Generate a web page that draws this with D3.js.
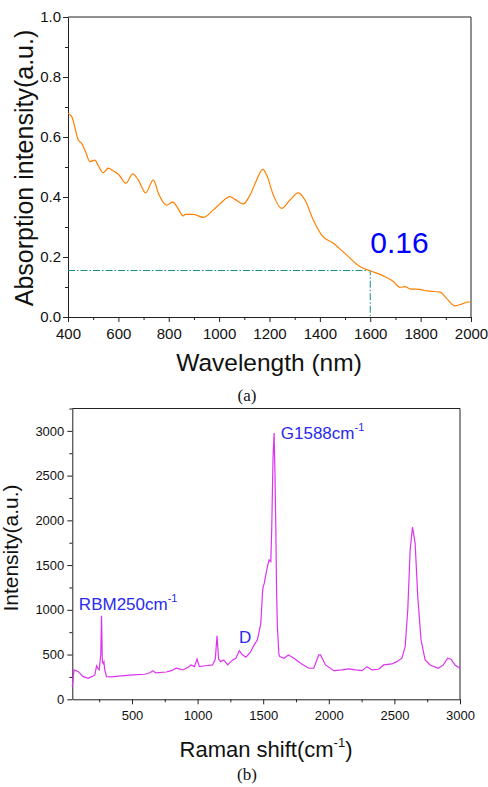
<!DOCTYPE html>
<html>
<head>
<meta charset="utf-8">
<script src="https://cdn.jsdelivr.net/npm/d3@7"></script>
<style>
  body { margin: 0; background: #fff; }
  svg text { font-family: "Liberation Sans", Arial, sans-serif; }
  svg text.serif { font-family: "Liberation Serif", "Times New Roman", serif; }
  .domain { stroke: #222; }
  .tick line { stroke: #222; }
</style>
</head>
<body>
<div id="chart"></div>
<script>
// (a) absorption spectrum
const wavelength = [400, 415, 441, 454, 470, 487, 507, 520, 540, 560, 580, 600, 630, 657, 679, 708, 739, 759, 792, 816, 832, 858, 865, 898, 937, 977, 1003, 1043, 1063, 1096, 1123, 1149, 1173, 1189, 1215, 1248, 1281, 1314, 1341, 1374, 1407, 1453, 1506, 1559, 1599, 1652, 1692, 1718, 1738, 1758, 1798, 1824, 1877, 1903, 1937, 1963, 1990, 2000];
const absorbance = [0.679, 0.668, 0.59, 0.579, 0.55, 0.518, 0.523, 0.505, 0.481, 0.496, 0.487, 0.476, 0.446, 0.477, 0.457, 0.414, 0.457, 0.412, 0.373, 0.384, 0.368, 0.337, 0.342, 0.342, 0.332, 0.357, 0.377, 0.401, 0.392, 0.377, 0.407, 0.457, 0.492, 0.473, 0.407, 0.362, 0.39, 0.414, 0.39, 0.323, 0.273, 0.246, 0.207, 0.168, 0.154, 0.137, 0.118, 0.099, 0.101, 0.094, 0.092, 0.087, 0.083, 0.062, 0.037, 0.043, 0.05, 0.05];
const markWavelength = 1600;
const markAbsorbance = 0.155;
const markLabel = "0.16";

// (b) Raman spectrum
const ramanShift = [45, 58, 91, 128, 166, 192, 217, 230, 242, 250, 262, 268, 274, 280, 286, 292, 306, 344, 420, 508, 600, 640, 660, 680, 761, 800, 837, 860, 888, 930, 950, 976, 996, 1013, 1060, 1114, 1135, 1148, 1160, 1175, 1200, 1229, 1267, 1292, 1318, 1340, 1368, 1400, 1431, 1456, 1482, 1495, 1500, 1507, 1532, 1545, 1558, 1565, 1575, 1583, 1590, 1596, 1602, 1608, 1620, 1626, 1659, 1692, 1735, 1785, 1848, 1885, 1924, 1937, 1975, 2038, 2101, 2152, 2203, 2253, 2291, 2329, 2380, 2418, 2481, 2519, 2557, 2582, 2602, 2620, 2638, 2658, 2678, 2703, 2734, 2772, 2835, 2873, 2906, 2931, 2962, 3000];
const ramanIntensity = [141, 328, 309, 253, 235, 253, 272, 375, 340, 330, 500, 935, 420, 400, 420, 330, 253, 250, 262, 272, 280, 300, 320, 295, 305, 320, 347, 340, 328, 360, 384, 365, 450, 365, 375, 384, 450, 710, 450, 421, 440, 384, 440, 459, 544, 500, 470, 520, 608, 664, 850, 1200, 1260, 1290, 1484, 1559, 1540, 1900, 2700, 2975, 2500, 1931, 1200, 812, 500, 477, 459, 496, 459, 403, 347, 347, 496, 496, 384, 320, 328, 339, 328, 320, 365, 328, 336, 384, 395, 421, 459, 589, 1000, 1671, 1924, 1745, 1148, 664, 440, 384, 347, 384, 459, 448, 384, 347];
const peakLabels = [
  { x: 95, y: 1000, text: "RBM250cm", sup: "-1" },
  { x: 1315, y: 630, text: "D", sup: "" },
  { x: 1634, y: 2910, text: "G1588cm", sup: "-1" }
];

const svg = d3.select("#chart").append("svg")
  .attr("width", 488)
  .attr("height", 787);

function minorAxis(axisFn, scale, values, size) {
  return axisFn(scale).tickValues(values).tickFormat("").tickSize(size).tickSizeOuter(0);
}

// ---------- chart (a) ----------
const xa = d3.scaleLinear().domain([400, 2000]).range([68, 471]);
const ya = d3.scaleLinear().domain([0, 1]).range([317, 17]);

// frame (top and right)
svg.append("path")
  .attr("d", `M${xa(400)},${ya(1)}H${xa(2000)}V${ya(0)}`)
  .attr("fill", "none").attr("stroke", "#222");

const gxa = svg.append("g").attr("transform", `translate(0,${ya(0)})`)
  .call(d3.axisBottom(xa).tickValues(d3.range(400, 2001, 200)).tickFormat(d3.format("d")).tickSize(5).tickSizeOuter(0));
gxa.selectAll("text").attr("font-size", 15).attr("fill", "#111").attr("dy", "0.9em");
svg.append("g").attr("transform", `translate(0,${ya(0)})`)
  .call(minorAxis(d3.axisBottom, xa, d3.range(500, 2000, 200), 3))
  .select(".domain").remove();

const gya = svg.append("g").attr("transform", `translate(${xa(400)},0)`)
  .call(d3.axisLeft(ya).tickValues(d3.range(0, 1.01, 0.2)).tickFormat(d3.format(".1f")).tickSize(5).tickSizeOuter(0));
gya.selectAll("text").attr("font-size", 15).attr("fill", "#111").attr("x", -7);
svg.append("g").attr("transform", `translate(${xa(400)},0)`)
  .call(minorAxis(d3.axisLeft, ya, [0.1, 0.3, 0.5, 0.7, 0.9], 3))
  .select(".domain").remove();

// marker lines
svg.append("path")
  .attr("d", `M${xa(400)},${ya(markAbsorbance)}H${xa(markWavelength)}V${ya(0)}`)
  .attr("fill", "none")
  .attr("stroke", "#1a8f8f")
  .attr("stroke-width", 1)
  .attr("stroke-dasharray", "7,2,1.5,2");

svg.append("path")
  .datum(wavelength.map((w, i) => [w, absorbance[i]]))
  .attr("fill", "none")
  .attr("stroke", "#ff8000")
  .attr("stroke-width", 1.2)
  .attr("d", d3.line().x(d => xa(d[0])).y(d => ya(d[1])).curve(d3.curveMonotoneX));

svg.append("text")
  .attr("x", xa(markWavelength))
  .attr("y", 253)
  .attr("font-size", 30)
  .attr("fill", "#0000ff")
  .text(markLabel);

svg.append("text")
  .attr("transform", `translate(33,168) rotate(-90)`)
  .attr("text-anchor", "middle")
  .attr("font-size", 25)
  .attr("fill", "#111")
  .text("Absorption intensity(a.u.)");

svg.append("text")
  .attr("x", 269).attr("y", 371)
  .attr("text-anchor", "middle")
  .attr("font-size", 24.5)
  .attr("fill", "#111")
  .text("Wavelength (nm)");

svg.append("text")
  .attr("class", "serif")
  .attr("x", 247).attr("y", 401)
  .attr("text-anchor", "middle")
  .attr("font-size", 17)
  .attr("fill", "#111")
  .text("(a)");

// ---------- chart (b) ----------
const xb = d3.scaleLinear().domain([45, 3000]).range([72.3, 460]);
const yb = d3.scaleLinear().domain([0, 3250]).range([699.3, 408.5]);

svg.append("path")
  .attr("d", `M${xb(45)},${yb(3250)}H${xb(3000)}V${yb(0)}`)
  .attr("fill", "none").attr("stroke", "#222");

const gxb = svg.append("g").attr("transform", `translate(0,${yb(0)})`)
  .call(d3.axisBottom(xb).tickValues(d3.range(500, 3001, 500)).tickFormat(d3.format("d")).tickSize(5).tickSizeOuter(0));
gxb.selectAll("text").attr("font-size", 13).attr("fill", "#111").attr("dy", "0.95em");
svg.append("g").attr("transform", `translate(0,${yb(0)})`)
  .call(minorAxis(d3.axisBottom, xb, d3.range(250, 3000, 500), 3))
  .select(".domain").remove();

const gyb = svg.append("g").attr("transform", `translate(${xb(45)},0)`)
  .call(d3.axisLeft(yb).tickValues(d3.range(0, 3001, 500)).tickFormat(d3.format("d")).tickSize(5).tickSizeOuter(0));
gyb.selectAll("text").attr("font-size", 13).attr("fill", "#111").attr("x", -8);
svg.append("g").attr("transform", `translate(${xb(45)},0)`)
  .call(minorAxis(d3.axisLeft, yb, d3.range(250, 3251, 500), 3))
  .select(".domain").remove();

svg.append("path")
  .datum(ramanShift.map((r, i) => [r, ramanIntensity[i]]))
  .attr("fill", "none")
  .attr("stroke", "#dd33f0")
  .attr("stroke-width", 1.2)
  .attr("d", d3.line().x(d => xb(d[0])).y(d => yb(d[1])));

peakLabels.forEach(p => {
  const t = svg.append("text")
    .attr("x", xb(p.x))
    .attr("y", yb(p.y))
    .attr("font-size", 17)
    .attr("fill", "#2a2af0");
  t.append("tspan").text(p.text);
  if (p.sup) t.append("tspan").attr("dy", -8).attr("font-size", 11).text(p.sup);
});

const xl = svg.append("text")
  .attr("x", 266).attr("y", 757)
  .attr("text-anchor", "middle")
  .attr("font-size", 22)
  .attr("fill", "#111");
xl.append("tspan").text("Raman shift(cm");
xl.append("tspan").attr("dy", -10).attr("font-size", 13).text("-1");
xl.append("tspan").attr("dy", 10).text(")");

svg.append("text")
  .attr("transform", `translate(18,548) rotate(-90)`)
  .attr("text-anchor", "middle")
  .attr("font-size", 21)
  .attr("fill", "#111")
  .text("Intensity(a.u.)");

svg.append("text")
  .attr("class", "serif")
  .attr("x", 247).attr("y", 780)
  .attr("text-anchor", "middle")
  .attr("font-size", 17)
  .attr("fill", "#111")
  .text("(b)");
</script>
</body>
</html>
